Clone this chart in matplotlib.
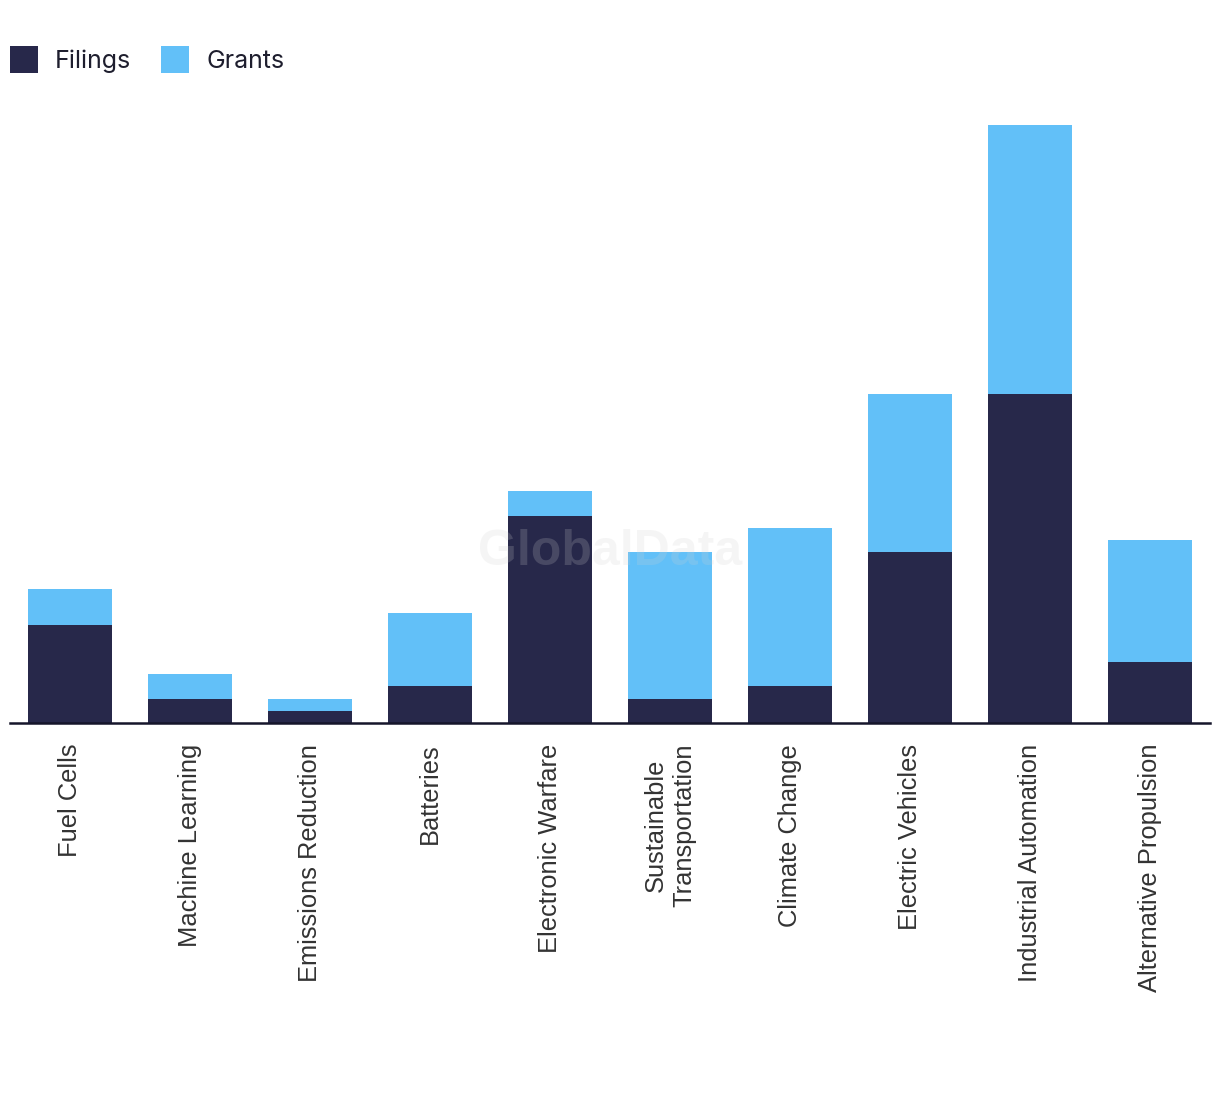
import matplotlib
matplotlib.use("Agg")
import matplotlib.pyplot as plt
import numpy as np

categories = ["Fuel Cells", "Machine Learning", "Emissions Reduction", "Batteries",
              "Electronic Warfare", "Sustainable\nTransportation", "Climate Change",
              "Electric Vehicles", "Industrial Automation", "Alternative Propulsion"]
filings = [8, 2, 1, 3, 17, 2, 3, 14, 27, 5]
grants = [3, 2, 1, 6, 2, 12, 13, 13, 22, 10]

navy = "#27284A"
blue = "#62C0F8"

W, H = 1220, 1094
fig = plt.figure(figsize=(W / 100, H / 100), dpi=100)
ax = fig.add_axes([10 / W, (H - 723) / H, 1200 / W, 610 / H])

x = np.arange(len(categories))
b1 = ax.bar(x, filings, width=0.7, color=navy, label="Filings", zorder=2)
b2 = ax.bar(x, grants, width=0.7, bottom=filings, color=blue, label="Grants", zorder=2)

ax.set_xlim(-0.5, len(categories) - 0.5)
ax.set_ylim(0, 50)
for s in ["top", "right", "left"]:
    ax.spines[s].set_visible(False)
ax.spines["bottom"].set_linewidth(1.8)
ax.spines["bottom"].set_color("#15152a")
ax.spines["bottom"].set_zorder(3)
ax.set_yticks([])
ax.set_xticks(x)
ax.set_xticklabels(categories, rotation=90, fontsize=18.4, color="#333333",
                   family=["Liberation Sans", "DejaVu Sans"], linespacing=1.2)
ax.tick_params(axis="x", length=0, pad=15)

fig.legend(handles=[b1, b2], labels=["Filings", "Grants"], loc="upper left",
           bbox_to_anchor=(10 / W, 1 - 46 / H), ncol=2, frameon=False,
           prop={"family": ["Inter", "DejaVu Sans"], "size": 18},
           handlelength=1.12, handleheight=1.285, handletextpad=0.68,
           columnspacing=1.2, borderpad=0, borderaxespad=0, labelcolor="#1e1e2e")

ax.text(0.5, 0.28, "GlobalData", transform=ax.transAxes, ha="center", va="center",
        fontsize=36, fontweight="bold", family=["Liberation Sans", "DejaVu Sans"],
        color="#d0d0d0", alpha=0.2, zorder=5)

fig.savefig("out.png", dpi=100)
